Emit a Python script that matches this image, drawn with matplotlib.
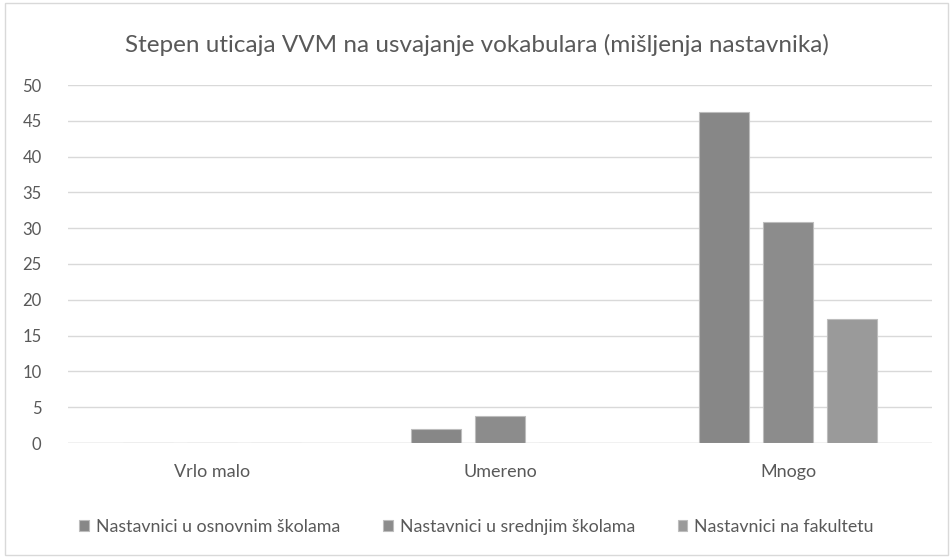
import matplotlib.pyplot as plt
import numpy as np
from matplotlib.patches import Rectangle

plt.rcParams['font.family'] = ['Lato', 'DejaVu Sans']

categories = ["Vrlo malo", "Umereno", "Mnogo"]
series_names = ["Nastavnici u osnovnim školama",
                "Nastavnici u srednjim školama",
                "Nastavnici na fakultetu"]
osnovne = [0, 1.9, 46.2]
srednje = [0, 3.8, 30.8]
fakultet = [0, 0, 17.3]
colors = ["#878787", "#8c8c8c", "#9a9a9a"]

fig = plt.figure(figsize=(9.53, 5.57), dpi=100)
ax = fig.add_axes([68/953, 1-443/557, 864/953, 358/557])

x = np.arange(len(categories))
w = 50/288
step = 64/288
for i, (vals, name, c) in enumerate(zip([osnovne, srednje, fakultet], series_names, colors)):
    ax.bar(x + (i-1)*step, vals, width=w, color=c, edgecolor="#bdbdbd",
           linewidth=0.8, label=name, zorder=3)

ax.set_xlim(-0.5, 2.5)
ax.set_ylim(0, 50)
ax.set_yticks(range(0, 51, 5))
ax.set_xticks(x)
ax.set_xticklabels(categories)
ax.yaxis.grid(True, color="#d9d9d9", linewidth=1, zorder=0)
for s in ax.spines.values():
    s.set_visible(False)
ax.axhline(0, color="#d9d9d9", linewidth=1, zorder=2)
ax.tick_params(axis='y', length=0, labelsize=12, labelcolor="#595959", pad=19)
ax.tick_params(axis='x', length=0, labelsize=13, labelcolor="#595959", pad=15)

fig.text(0.5, 1-45/557, "Stepen uticaja VVM na usvajanje vokabulara (mišljenja nastavnika)",
         ha="center", va="center", fontsize=17.5, color="#595959")

fig.legend(loc="center", bbox_to_anchor=(0.5, 1-527/557), ncol=3, frameon=False,
           fontsize=12.8, labelcolor="#595959", handlelength=0.55, handleheight=0.55,
           handletextpad=0.4, columnspacing=2.4)

fig.patches.append(Rectangle((5/953, 2/557), 943/953, 552/557, transform=fig.transFigure,
                             fill=False, edgecolor="#d9d9d9", linewidth=1))

fig.savefig("out.png", dpi=100)
